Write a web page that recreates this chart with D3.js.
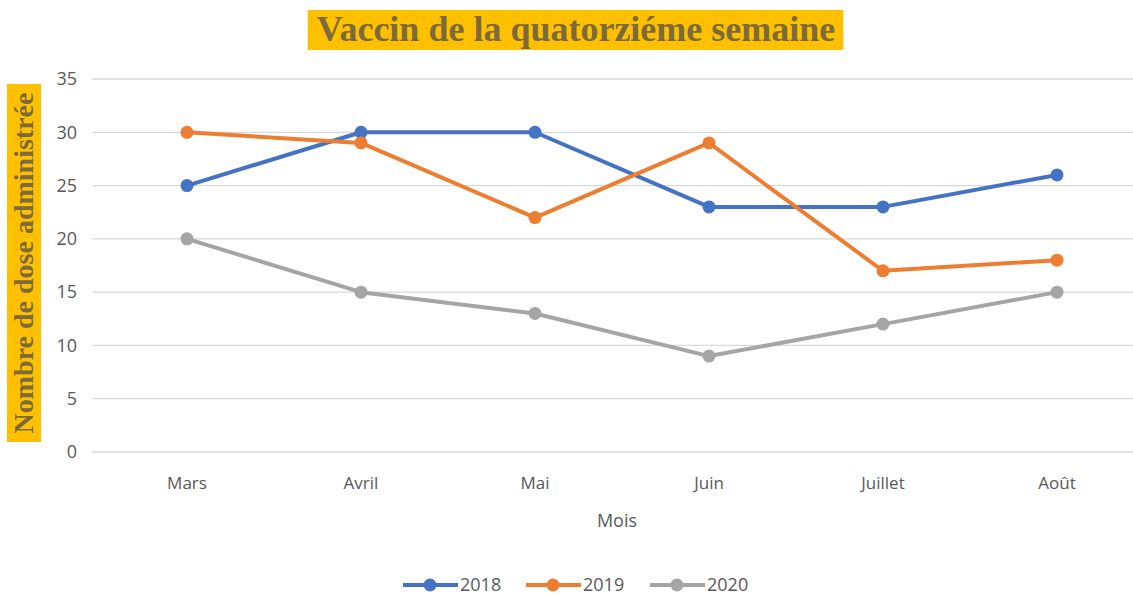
<!DOCTYPE html>
<html>
<head>
<meta charset="utf-8">
<script src="https://cdn.jsdelivr.net/npm/d3@7"></script>
<style>
  body { margin: 0; background: #fff; }
  text { font-family: "Open Sans", "Noto Sans", sans-serif; }
</style>
</head>
<body>
<div class="container"></div>
<script>
// chart data
const months = ['Mars', 'Avril', 'Mai', 'Juin', 'Juillet', 'Août']
const years = ['2018', '2019', '2020']
const doses2018 = [25, 30, 30, 23, 23, 26]
const doses2019 = [30, 29, 22, 29, 17, 18]
const doses2020 = [20, 15, 13, 9, 12, 15]
const yTicks = [0, 5, 10, 15, 20, 25, 30, 35]

const series = [doses2018, doses2019, doses2020]
const colors = ['#4472C4', '#ED7D31', '#A5A5A5']

const width = 1133, height = 598

var svg = d3.select('.container')
  .append('svg')
  .attr('width', width)
  .attr('height', height)

var x = d3.scalePoint().domain(months).range([187, 1057])
var y = d3.scaleLinear().domain([0, 35]).range([452, 79])

// gridlines
svg.append('g')
  .selectAll('line')
  .data(yTicks)
  .join('line')
  .attr('x1', 92)
  .attr('x2', width)
  .attr('y1', d => y(d))
  .attr('y2', d => y(d))
  .attr('stroke', '#d9d9d9')
  .attr('stroke-width', 1.3)

// y tick labels
svg.append('g')
  .selectAll('text')
  .data(yTicks)
  .join('text')
  .attr('x', 77)
  .attr('y', d => y(d))
  .attr('dy', '0.35em')
  .attr('text-anchor', 'end')
  .attr('fill', '#595959')
  .style('font-size', '18px')
  .text(d => d)

// x tick labels
svg.append('g')
  .selectAll('text')
  .data(months)
  .join('text')
  .attr('x', d => x(d))
  .attr('y', 489)
  .attr('text-anchor', 'middle')
  .attr('fill', '#595959')
  .style('font-size', '17px')
  .text(d => d)

svg.append('text')
  .attr('x', 617)
  .attr('y', 527)
  .attr('text-anchor', 'middle')
  .attr('fill', '#595959')
  .style('font-size', '18px')
  .text('Mois')

// lines + markers
var line = d3.line().x((d, i) => x(months[i])).y(d => y(d))
series.forEach((vals, s) => {
  svg.append('path')
    .datum(vals)
    .attr('d', line)
    .attr('fill', 'none')
    .attr('stroke', colors[s])
    .attr('stroke-width', 4)
    .attr('stroke-linejoin', 'round')
  svg.append('g')
    .selectAll('circle')
    .data(vals)
    .join('circle')
    .attr('cx', (d, i) => x(months[i]))
    .attr('cy', d => y(d))
    .attr('r', 6.5)
    .attr('fill', colors[s])
})

// title with yellow box
var title = svg.append('g')
var titleText = title.append('text')
  .attr('x', 576)
  .attr('y', 41)
  .attr('text-anchor', 'middle')
  .attr('fill', '#7b6a3c')
  .style('font-family', '"Liberation Serif", "DejaVu Serif", serif')
  .style('font-weight', 'bold')
  .style('font-size', '36px')
  .text('Vaccin de la quatorziéme semaine')
var tb = titleText.node().getBBox()
title.insert('rect', 'text')
  .attr('x', tb.x - 9)
  .attr('y', 10)
  .attr('width', tb.width + 17)
  .attr('height', 40)
  .attr('fill', '#FFC000')

// y axis title with yellow box
var yt = svg.append('g').attr('transform', 'translate(24, 263) rotate(-90)')
yt.append('rect')
  .attr('x', -179)
  .attr('y', -17)
  .attr('width', 358)
  .attr('height', 34)
  .attr('fill', '#FFC000')
yt.append('text')
  .attr('x', 0)
  .attr('y', 9)
  .attr('text-anchor', 'middle')
  .attr('fill', '#7b6a3c')
  .style('font-family', '"Liberation Serif", "DejaVu Serif", serif')
  .style('font-weight', 'bold')
  .style('font-size', '28px')
  .text('Nombre de dose administrée')

// legend
var legendX = [403, 526, 650]
years.forEach((yr, s) => {
  var g = svg.append('g').attr('transform', 'translate(' + legendX[s] + ',585)')
  g.append('line')
    .attr('x1', 0).attr('x2', 55)
    .attr('stroke', colors[s])
    .attr('stroke-width', 4)
  g.append('circle')
    .attr('cx', 27).attr('r', 6.5)
    .attr('fill', colors[s])
  g.append('text')
    .attr('x', 57)
    .attr('dy', '0.35em')
    .attr('fill', '#595959')
    .style('font-size', '18px')
    .text(yr)
})
</script>
</body>
</html>
